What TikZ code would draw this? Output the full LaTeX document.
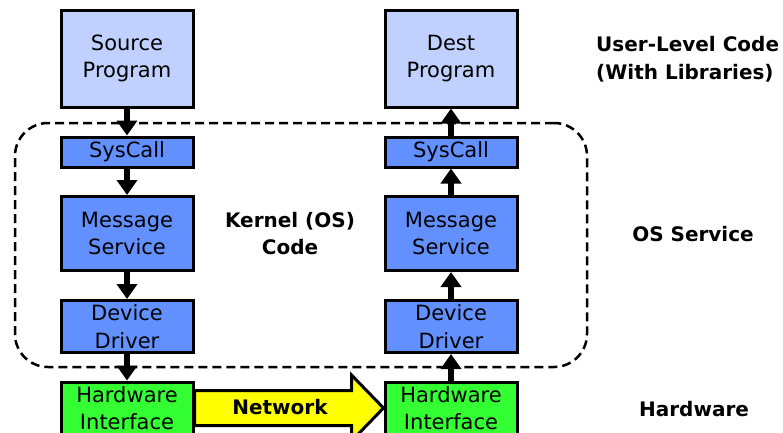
\documentclass[tikz,border=0pt]{standalone}
\usepackage{fontspec}
\setmainfont{DejaVu Sans}
\usetikzlibrary{arrows.meta,calc,backgrounds}
\definecolor{userblue}{RGB}{192,208,255}
\definecolor{kernblue}{RGB}{98,144,255}
\definecolor{hwgreen}{RGB}{51,255,51}
\definecolor{netyellow}{RGB}{255,255,0}
\begin{document}
\begin{tikzpicture}[x=1pt,y=-1pt,
  layerbox/.style={rectangle, draw=black, line width=3pt, inner sep=0pt,
    minimum width=132pt, align=center,
    font=\fontsize{21pt}{27.5pt}\selectfont},
  userbox/.style={layerbox, fill=userblue},
  kernbox/.style={layerbox, fill=kernblue},
  hwbox/.style={layerbox, fill=hwgreen},
  oszone/.style={rectangle, draw=black, line width=2.5pt,
    dash pattern=on 9pt off 5pt, rounded corners=33pt, inner sep=0pt},
  flow/.style={draw=black, line width=5.5pt,
    -{Triangle[width=20pt,length=15pt]}},
  tag/.style={font=\bfseries\fontsize{20pt}{27.5pt}\selectfont, align=center, inner sep=0pt},
  netarrow/.style={draw=black, fill=netyellow, line width=3pt, line join=miter}]

  \path[use as bounding box] (0,0) rectangle (783,432);

  % kernel region
  \node[oszone, minimum width=572pt, minimum height=244pt] (os) at (301,245) {};

  % sending side
  \node[userbox, minimum height=97pt] (src) at (127,58.5) {Source\\Program};
  \node[kernbox, minimum height=30pt] (sysL) at (127,152) {SysCall};
  \node[kernbox, minimum height=74pt] (msgL) at (127,233.5) {Message\\Service};
  \node[kernbox, minimum height=52pt] (drvL) at (127,326.5) {Device\\Driver};
  \node[hwbox, minimum height=52pt] (hwL) at (127,408) {Hardware\\Interface};

  % receiving side
  \node[userbox, minimum height=97pt] (dst) at (451,58.5) {Dest\\Program};
  \node[kernbox, minimum height=30pt] (sysR) at (451,152) {SysCall};
  \node[kernbox, minimum height=74pt] (msgR) at (451,233.5) {Message\\Service};
  \node[kernbox, minimum height=52pt] (drvR) at (451,326.5) {Device\\Driver};
  \node[hwbox, minimum height=52pt] (hwR) at (451,408) {Hardware\\Interface};

  % network link between the two hardware interfaces
  \begin{scope}[on background layer]
    \draw[netarrow]
      ($(hwL.east)+(0,-17.5)$) -- ($(hwR.west)+(-32,-17.5)$)
      -- ($(hwR.west)+(-32,-33)$) -- (hwR.west)
      -- ($(hwR.west)+(-32,33)$) -- ($(hwR.west)+(-32,17.5)$)
      -- ($(hwL.east)+(0,17.5)$) -- cycle;
  \end{scope}
  \node[tag] (net) at (280,407.5) {Network};

  % message path down the sender and up the receiver
  \draw[flow] (src) -- (sysL);
  \draw[flow] (sysL) -- (msgL);
  \draw[flow] (msgL) -- (drvL);
  \draw[flow] (drvL) -- (hwL);
  \draw[flow] (hwR) -- (drvR);
  \draw[flow] (drvR) -- (msgR);
  \draw[flow] (msgR) -- (sysR);
  \draw[flow] (sysR) -- (dst);

  % labels
  \node[tag] (kern) at (290,233.5) {Kernel (OS)\\Code};
  \node[tag, align=left, anchor=west] (user) at (596,59) {User-Level Code\\(With Libraries)};
  \node[tag] (ossvc) at (693,234) {OS Service};
  \node[tag] (hw) at (694,409) {Hardware};
\end{tikzpicture}
\end{document}
